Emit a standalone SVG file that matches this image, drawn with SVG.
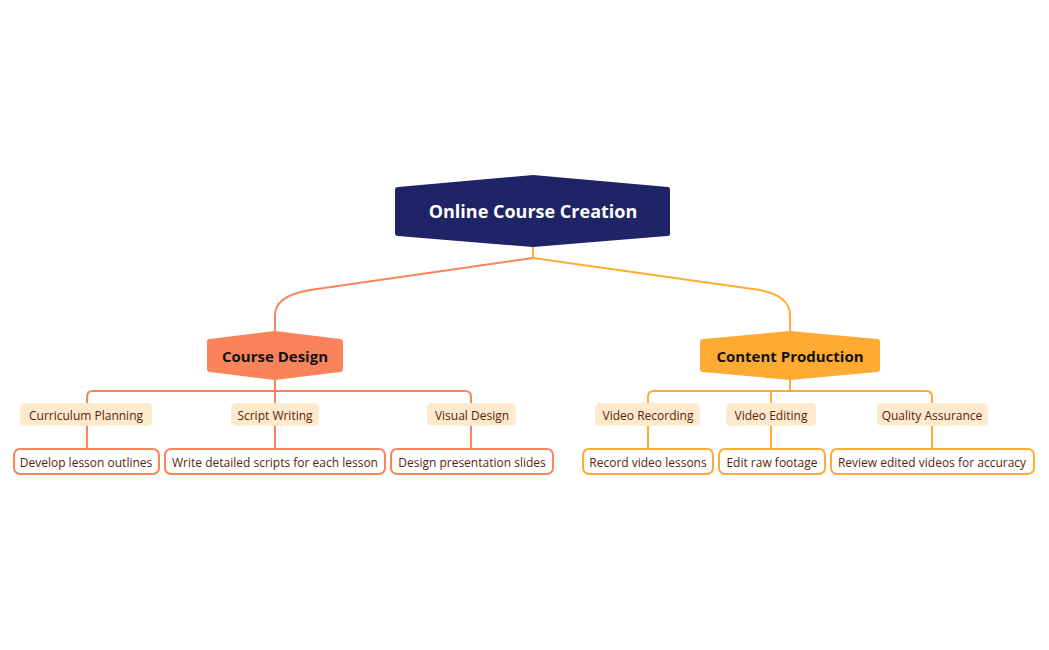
<svg xmlns="http://www.w3.org/2000/svg" width="1049" height="650" viewBox="0 0 1049 650">
<style>
text{font-family:"Open Sans","Noto Sans",sans-serif;text-anchor:middle;dominant-baseline:central}
.root{font-size:18px;font-weight:700;fill:#fff}
.main{font-size:15px;font-weight:700;fill:#111}
.sub{font-size:12px;fill:#5a1e0a}
.leaf{font-size:12px;fill:#5a1e0a}
.lc{fill:none;stroke:#f9845a;stroke-width:2}
.rc{fill:none;stroke:#ffab33;stroke-width:2}
.sb{fill:#fde9cb}
.ll{fill:#fff;stroke:#f9845a;stroke-width:2}
.rl{fill:#fff;stroke:#ffab33;stroke-width:2}
</style>
<rect width="1049" height="650" fill="#fff"/>
<g id="connectors">
<path class="rc" d="M533,247 V258"/>
<path class="lc" d="M533,258 L310,290 Q275,296 275,315 V331"/>
<path class="rc" d="M533,258 L760,290 Q790,296 790,315 V331"/>
<path class="lc" d="M275,380 V403 M87,403 V397 Q87,391 93,391 H465 Q471,391 471,397 V403"/>
<path class="lc" d="M87,426 V449 M275,426 V449 M471,426 V449"/>
<path class="rc" d="M790,380 V391 M648,403 V397 Q648,391 654,391 H926 Q932,391 932,397 V403 M771,391 V403"/>
<path class="rc" d="M648,426 V449 M771,426 V449 M932,426 V449"/>
</g>
<g id="root">
<path d="M398,187 L533,175 L668,187 Q670,187 670,190 V234 Q670,236 667,236 L533,247 L398,236 Q395,236 395,233 V190 Q395,187 398,187 Z" fill="#1e2466"/>
<text class="root" x="533" y="211">Online Course Creation</text>
</g>
<g id="course-design">
<path d="M210,339 L275,331 L340,339 Q343,339 343,342 V369 Q343,372 340,372 L275,380 L210,372 Q207,372 207,369 V342 Q207,339 210,339 Z" fill="#f9845a"/>
<text class="main" x="275" y="356">Course Design</text>
</g>
<g id="content-production">
<path d="M703,339 L790,331 L877,339 Q880,339 880,342 V369 Q880,372 877,372 L790,380 L703,372 Q700,372 700,369 V342 Q700,339 703,339 Z" fill="#ffab33"/>
<text class="main" x="790" y="356">Content Production</text>
</g>
<g id="curriculum-planning"><rect class="sb" x="20" y="403" width="132" height="23" rx="5"/><text class="sub" x="86" y="415">Curriculum Planning</text></g>
<g id="script-writing"><rect class="sb" x="231" y="403" width="88" height="23" rx="5"/><text class="sub" x="275" y="415">Script Writing</text></g>
<g id="visual-design"><rect class="sb" x="427" y="403" width="89" height="23" rx="5"/><text class="sub" x="472" y="415">Visual Design</text></g>
<g id="video-recording"><rect class="sb" x="595" y="403" width="105" height="23" rx="5"/><text class="sub" x="648" y="415">Video Recording</text></g>
<g id="video-editing"><rect class="sb" x="726" y="403" width="90" height="23" rx="5"/><text class="sub" x="771" y="415">Video Editing</text></g>
<g id="quality-assurance"><rect class="sb" x="877" y="403" width="111" height="23" rx="5"/><text class="sub" x="932" y="415">Quality Assurance</text></g>
<g id="develop-lesson-outlines"><rect class="ll" x="14" y="449" width="145" height="25" rx="6"/><text class="leaf" x="86" y="462">Develop lesson outlines</text></g>
<g id="write-scripts"><rect class="ll" x="165" y="449" width="220" height="25" rx="6"/><text class="leaf" x="275" y="462">Write detailed scripts for each lesson</text></g>
<g id="design-slides"><rect class="ll" x="391" y="449" width="162" height="25" rx="6"/><text class="leaf" x="472" y="462">Design presentation slides</text></g>
<g id="record-video"><rect class="rl" x="583" y="449" width="130" height="25" rx="6"/><text class="leaf" x="648" y="462">Record video lessons</text></g>
<g id="edit-footage"><rect class="rl" x="719" y="449" width="106" height="25" rx="6"/><text class="leaf" x="772" y="462">Edit raw footage</text></g>
<g id="review-videos"><rect class="rl" x="831" y="449" width="203" height="25" rx="6"/><text class="leaf" x="932" y="462">Review edited videos for accuracy</text></g>
</svg>
